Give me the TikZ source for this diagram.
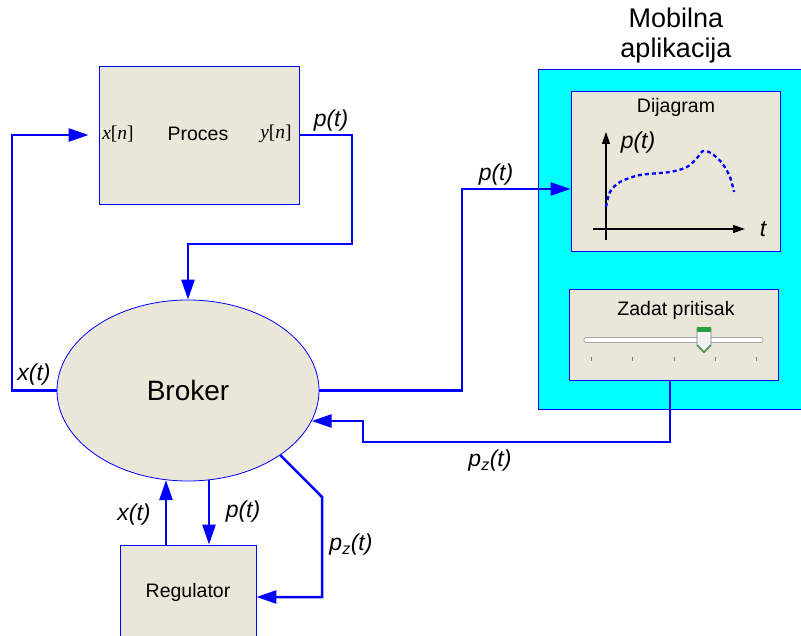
\documentclass[tikz,border=0pt]{standalone}
\usepackage{fontspec}
\setmainfont{Liberation Sans}
\newfontfamily\serifit{Liberation Serif}
\usetikzlibrary{arrows.meta,shapes.geometric,calc}
\definecolor{boxfill}{RGB}{234,230,216}
\definecolor{lineblue}{RGB}{0,0,255}
\definecolor{cyanbg}{RGB}{0,255,255}
\definecolor{thumbgreen}{RGB}{40,160,60}
\begin{document}
\begin{tikzpicture}[x=1pt,y=-1pt,
  box/.style={draw=lineblue, line width=0.8pt, fill=boxfill, inner sep=0pt},
  conn/.style={draw=lineblue, line width=2.5pt},
  tip/.style={-{Triangle[length=20pt,width=13pt]}},
  lbl/.style={font=\fontsize{23}{25}\selectfont\itshape, inner sep=0pt},
  txt/.style={font=\fontsize{19.5}{21}\selectfont, inner sep=0pt}]
\clip (0,0) rectangle (801,636);
\fill[white] (0,0) rectangle (801,636);

% Mobile app
\node[draw=lineblue, line width=0.8pt, fill=cyanbg, minimum width=264pt, minimum height=340pt, inner sep=0pt] (app) at (670,239) {};
\node[font=\fontsize{27}{30}\selectfont, align=center, inner sep=0pt] (title) at (676,36) {Mobilna\\aplikacija};

% Dijagram
\node[box, minimum width=209pt, minimum height=160pt] (dij) at (675.5,171) {};
\node[txt] (dijt) at (676,107) {Dijagram};
\draw[line width=1.2pt, -{Triangle[length=12pt,width=8pt]}] (606,240) -- (606,132);
\draw[line width=1.2pt, -{Triangle[length=12pt,width=8pt]}] (593,229) -- (745,229);
\node[lbl] (pt3) at (638,143) {p(t)};
\node[lbl] (tt) at (763,229) {t};
\draw[lineblue, line width=2.3pt, dash pattern=on 4pt off 3pt] plot[smooth] coordinates {(606,207) (610,192) (620,182) (640,175) (670,172) (687,167) (697,158) (703,151) (711,153) (722,163) (730,177) (734,192)};

% Slider
\node[box, minimum width=209pt, minimum height=91pt] (sld) at (673.5,334.5) {};
\node[txt] (sldt) at (676,310) {Zadat pritisak};
\draw[rounded corners=2pt, fill=white, draw=gray!70, line width=0.8pt] (584,337.5) rectangle (763,342.5);
\foreach \x in {591,632,674,715,756} \draw[gray, line width=0.8pt] (\x,357) -- (\x,361);
\draw[draw=gray, fill=gray!10, line width=0.6pt] (697,328) -- (711,328) -- (711,346) -- (704,353) -- (697,346) -- cycle;
\fill[thumbgreen] (697,327) rectangle (711,332);
\draw[thumbgreen, line width=1.2pt] (697.5,345) -- (704,352) -- (710.5,345);

% Proces
\node[box, minimum width=200pt, minimum height=138pt] (proces) at (199,135) {};
\node[txt] (proct) at (198,134) {Proces};
\node[font=\serifit\fontsize{19.5}{21}\selectfont, inner sep=0pt] (xn) at (118,134) {\textit{x}[\textit{n}]};
\node[font=\serifit\fontsize{19.5}{21}\selectfont, inner sep=0pt] (yn) at (276,134) {\textit{y}[\textit{n}]};

% Broker
\node[ellipse, draw=lineblue, line width=0.8pt, fill=boxfill, minimum width=262pt, minimum height=181pt, inner sep=0pt, font=\fontsize{28}{30}\selectfont] (broker) at (188,390.5) {Broker};

% Regulator
\node[box, txt, minimum width=136pt, minimum height=94pt] (reg) at (188,592) {Regulator};

% Connectors
\coordinate (a1) at (12,390.5);
\coordinate (a2) at (12,135);
\draw[conn,tip] (broker.west) -- (a1) -- (a2) -- ([xshift=-10pt]proces.west);

\coordinate (b1) at (352,135);
\coordinate (b2) at (352,244);
\coordinate (b3) at (188,244);
\draw[conn,tip] (proces.east) -- (b1) -- (b2) -- (b3) -- (broker.north);

\coordinate (c1) at (462,390.5);
\coordinate (c2) at (462,189);
\draw[conn,tip] (broker.east) -- (c1) -- (c2) -- (c2 -| dij.west);

\coordinate (d1) at (670,442);
\coordinate (d2) at (363,442);
\coordinate (d3) at (363,421);
\draw[conn,tip] ([xshift=-3.5pt]sld.south) -- (d1) -- (d2) -- (d3) -- (d3 -| broker.346);

\coordinate (e1) at ([xshift=21pt]reg.north);
\draw[conn,tip] (e1 |- broker.283) -- (e1);
\coordinate (f1) at ([xshift=-22pt]reg.north);
\draw[conn,tip] (f1) -- (f1 |- broker.256);

\coordinate (g1) at (322,497);
\coordinate (g2) at (322,597);
\draw[conn,tip] (broker.325) -- (g1) -- (g2) -- (g2 -| reg.east);

% Labels
\node[lbl] (lx1) at (34,375) {x(t)};
\node[lbl] (lp1) at (331,121) {p(t)};
\node[lbl] (lp2) at (496,175) {p(t)};
\node[lbl] (lpz1) at (490,461) {p\textsubscript{z}(t)};
\node[lbl] (lx2) at (134,515) {x(t)};
\node[lbl] (lp3) at (243,512) {p(t)};
\node[lbl] (lpz2) at (351,545) {p\textsubscript{z}(t)};
\end{tikzpicture}
\end{document}
